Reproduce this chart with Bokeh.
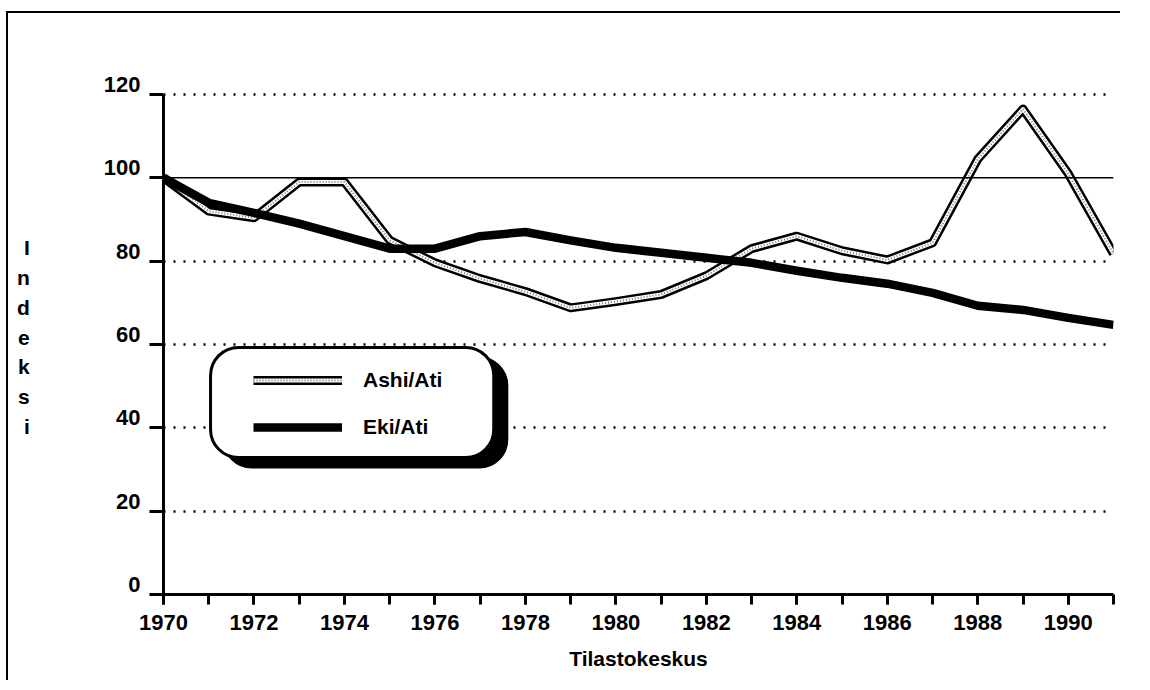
from bokeh.plotting import figure
from bokeh.models import (Range1d, FixedTicker, Span, BoxAnnotation, Legend,
                          LegendItem, LinearAxis)
from bokeh.embed import file_html
from bokeh.resources import INLINE

# ---- data ----
years = list(range(1970, 1992))
ashi_ati = [100, 92, 90.4, 99, 99, 85, 79.6, 75.8, 72.7, 68.8, 70.3, 72,
            76.5, 83, 86, 82.5, 80.3, 84.4, 104.5, 116.5, 101, 81.8]
eki_ati = [100, 94, 91.6, 89, 86, 83, 83, 86, 87, 85, 83.2, 82,
           80.8, 79.6, 77.7, 76, 74.6, 72.4, 69.3, 68.3, 66.4, 64.7]
series_names = ["Ashi/Ati", "Eki/Ati"]
x_major_ticks = list(range(1970, 1991, 2))
x_minor_ticks = list(range(1970, 1992))
y_ticks = [0, 20, 40, 60, 80, 100, 120]
y_dotted_grid = [20, 40, 60, 80, 120]
base_level = 100
x_title = "Tilastokeskus"
y_title = "Indeksi"

FONT = "Liberation Sans"
Y0, Y1 = 0, 120
TOP_PAD = 3.6     # empty room above the axis end (y units)
LABEL_LIFT = 2.4  # tick labels sit just above their tick (y units)

p = figure(width=1114, height=669, output_backend="svg", toolbar_location=None,
           x_range=Range1d(1970, 1991), y_range=Range1d(Y0, Y1 + TOP_PAD),
           min_border_left=155, min_border_right=9, min_border_top=66,
           min_border_bottom=88)
p.outline_line_color = None
p.background_fill_color = "white"
p.border_fill_color = "white"
p.styles = {"margin-left": "8px", "margin-top": "13px",
            "box-shadow": "-2px -2px 0px 0px black"}

# grid
p.xgrid.visible = False
p.ygrid.ticker = FixedTicker(ticks=y_dotted_grid)
p.ygrid.grid_line_color = "black"
p.ygrid.grid_line_width = 2.5
p.ygrid.grid_line_dash = "2 8"
p.add_layout(Span(location=base_level, dimension="width", line_color="black",
                  line_width=1.5))

# x axis
xa = p.xaxis[0]
xa.ticker = FixedTicker(ticks=x_major_ticks, minor_ticks=x_minor_ticks)
xa.axis_line_width = 3
xa.major_tick_line_width = 3
xa.major_tick_in = 0
xa.major_tick_out = 10
xa.minor_tick_out = 10
xa.minor_tick_in = 0
xa.minor_tick_line_width = 3
xa.minor_tick_line_color = "black"
xa.major_label_text_font = FONT
xa.major_label_text_font_size = "22px"
xa.major_label_text_font_style = "bold"
xa.major_label_text_color = "black"
xa.major_label_standoff = 10
xa.axis_label = x_title
xa.axis_label_text_font = FONT
xa.axis_label_text_font_size = "21px"
xa.axis_label_text_font_style = "bold"
xa.axis_label_text_color = "black"
xa.axis_label_standoff = 14

# y axis: line + ticks only
ya = p.yaxis[0]
ya.ticker = FixedTicker(ticks=y_ticks)
ya.bounds = (Y0, Y1)
ya.axis_line_width = 3
ya.major_tick_line_width = 3
ya.major_tick_in = 0
ya.major_tick_out = 14
ya.minor_tick_line_color = None
ya.major_label_overrides = {t: "" for t in y_ticks}
ya.major_label_standoff = 0

# y axis labels, lifted so they sit on top of the ticks
p.extra_y_ranges = {"lab": Range1d(Y0 - LABEL_LIFT, Y1 + TOP_PAD - LABEL_LIFT)}
yl = LinearAxis(y_range_name="lab", ticker=FixedTicker(ticks=y_ticks))
yl.axis_line_color = None
yl.major_tick_line_color = None
yl.major_tick_out = 0
yl.major_tick_in = 0
yl.minor_tick_line_color = None
yl.major_label_standoff = 9
yl.major_label_text_font = FONT
yl.major_label_text_font_size = "22px"
yl.major_label_text_font_style = "bold"
yl.major_label_text_color = "black"
yl.axis_label = "\n".join(list(y_title))
yl.axis_label_text_font = FONT
yl.axis_label_text_font_size = "21px"
yl.axis_label_text_font_style = "bold"
yl.axis_label_text_color = "black"
yl.axis_label_text_line_height = 1.3
yl.axis_label_standoff = 71
if "axis_label_orientation" in yl.properties():
    yl.axis_label_orientation = "horizontal"
p.add_layout(yl, "left")

# lines
a1 = p.line(years, ashi_ati, line_color="black", line_width=9, line_join="round")
a2 = p.line(years, ashi_ati, line_color="white", line_width=4, line_join="round")
a3 = p.line(years, ashi_ati, line_color="#777777", line_width=2, line_dash="1 2",
            line_join="round")
e1 = p.line(years, eki_ati, line_color="black", line_width=8.5, line_join="round")

# legend box (rounded, with shadow)
shadow = BoxAnnotation(left=1971.33, right=1977.6, top=56.9, bottom=30.5,
                       fill_color="black", fill_alpha=1, line_color="black",
                       line_alpha=1, line_width=2, border_radius=28)
box = BoxAnnotation(left=1971.04, right=1977.3, top=59.3, bottom=32.9,
                    fill_color="white", fill_alpha=1, line_color="black",
                    line_alpha=1, line_width=3, border_radius=28)
p.add_layout(shadow)
p.add_layout(box)

legend = Legend(items=[LegendItem(label=series_names[0], renderers=[a1, a2, a3]),
                       LegendItem(label=series_names[1], renderers=[e1])],
                location=(90, 154), orientation="vertical")
legend.background_fill_alpha = 0
legend.border_line_alpha = 0
legend.padding = 0
legend.margin = 0
legend.spacing = 21
legend.glyph_width = 89
legend.glyph_height = 26
legend.label_height = 26
legend.label_standoff = 21
legend.label_text_font = FONT
legend.label_text_font_size = "21px"
legend.label_text_font_style = "bold"
legend.label_text_color = "black"
p.add_layout(legend, "center")

open("out.html", "w").write(file_html(p, INLINE))
